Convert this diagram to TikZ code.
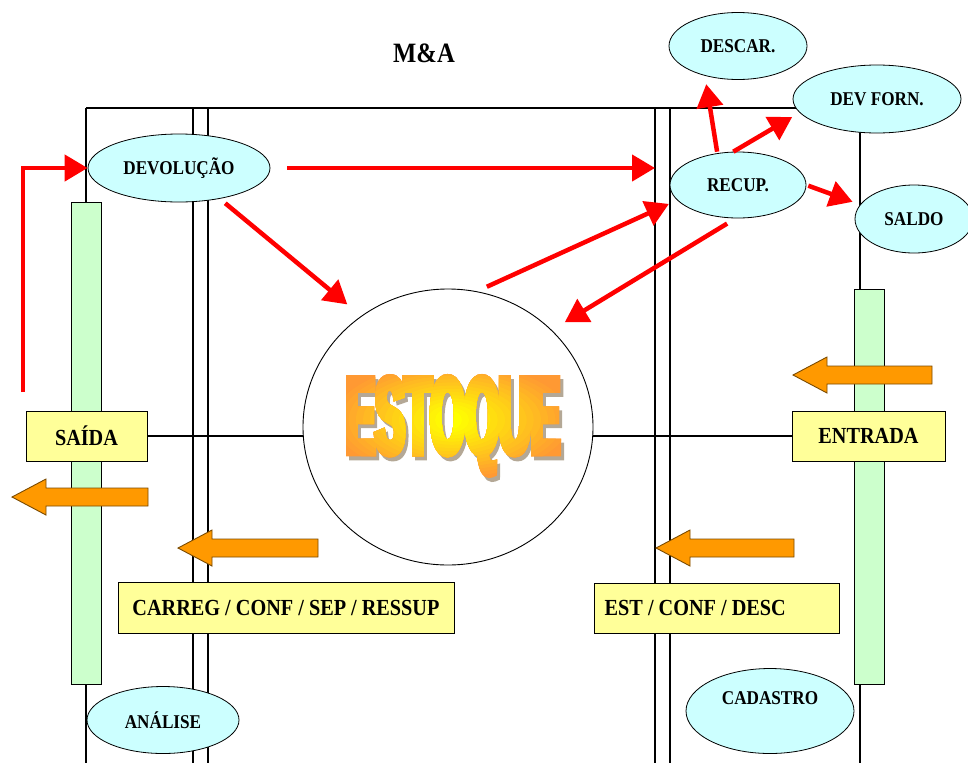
\documentclass[tikz,border=0pt]{standalone}
\usepackage{fontspec}
\setmainfont{Liberation Serif}
\newfontfamily\lblfont{Liberation Serif}[FakeStretch=0.88]
\newfontfamily\estfont{Liberation Sans}[FakeStretch=0.40,FakeBold=5]
\usetikzlibrary{shapes.geometric,arrows.meta}

\definecolor{bubble}{HTML}{CCFFFF}
\definecolor{barfill}{HTML}{CCFFCC}
\definecolor{boxfill}{HTML}{FFFF99}
\definecolor{flowred}{HTML}{FF0000}
\definecolor{blockor}{HTML}{FF9900}
\definecolor{blockedge}{HTML}{7A4A00}
\definecolor{estO}{HTML}{FF9933}
\definecolor{estY}{HTML}{FFFF00}
\definecolor{estS}{HTML}{B4A896}

\tikzset{
  lane/.style={line width=1.1pt, draw=black},
  bubble/.style={ellipse, draw=black, line width=0.8pt, fill=bubble, inner sep=0pt,
    font=\lblfont\bfseries\fontsize{19.5}{19.5}\selectfont},
  bar/.style={rectangle, draw=black, line width=1pt, fill=barfill, minimum width=30pt, inner sep=0pt},
  labelbox/.style={rectangle, draw=black, line width=1pt, fill=boxfill, minimum height=50pt, inner sep=0pt,
    font=\lblfont\bfseries\fontsize{23}{23}\selectfont},
  flow/.style={draw=flowred, line width=4.5pt, -{Triangle[length=23pt,width=26pt]}},
  block/.style={fill=blockor, draw=blockedge, line width=0.9pt, line join=miter},
  esttext/.style={inner sep=0pt, font=\estfont\bfseries\fontsize{110}{110}\selectfont},
}

% left-pointing block arrow: tip x, centre y, tail x
\newcommand\blockarrow[3]{%
  \draw[block] (#1,#2) -- (#1+34,#2-18) -- (#1+34,#2-9) -- (#3,#2-9)
    -- (#3,#2+9) -- (#1+34,#2+9) -- (#1+34,#2+18) -- cycle;}

\begin{document}
\begin{tikzpicture}[x=1pt,y=-1pt]
\fill[white] (0,0) rectangle (968,763);
\useasboundingbox (0,0) rectangle (968,763);

% swim-lane frame
\coordinate (bot) at (0,763);
\coordinate (lnA) at (86,108);
\coordinate (lnB1) at (193,108);
\coordinate (lnB2) at (208,108);
\coordinate (lnC1) at (655,108);
\coordinate (lnC2) at (670,108);
\coordinate (lnD) at (860,108);
\draw[lane] (lnA) -- (lnD);
\foreach \c in {lnA,lnB1,lnB2,lnC1,lnC2,lnD}
  \draw[lane] (\c) -- (\c |- bot);

% title
\node[font=\lblfont\bfseries\fontsize{28}{28}\selectfont] (title) at (424,53) {M\&A};

% activity bars
\node[bar, minimum height=482pt] (barL) at (86,443) {};
\node[bar, minimum height=395pt] (barR) at (869,486.5) {};

% process bubbles
\node[bubble, minimum width=182pt, minimum height=68pt] (dev) at (179,168) {DEVOLUÇÃO};
\node[bubble, minimum width=138pt, minimum height=67pt] (descar) at (738,46) {DESCAR.};
\node[bubble, minimum width=168pt, minimum height=68pt] (devforn) at (877,99) {DEV FORN.};
\node[bubble, minimum width=136pt, minimum height=66pt] (recup) at (738,185) {RECUP.};
\node[bubble, minimum width=118pt, minimum height=68pt] (saldo) at (914,219) {SALDO};
\node[bubble, minimum width=152pt, minimum height=67pt] (analise) at (163,720) {ANÁLISE};
\node[bubble, minimum width=168pt, minimum height=85pt] (cadastro) at (770,711) {};
\node[font=\lblfont\bfseries\fontsize{19.5}{19.5}\selectfont] (cadtext) at ([yshift=13pt]cadastro.center) {CADASTRO};

% label boxes
\node[labelbox, minimum width=121pt] (saida) at (86.5,436) {SAÍDA};
\node[labelbox, minimum width=153pt] (entrada) at (868.5,436) {ENTRADA};
\node[labelbox, minimum width=336pt, minimum height=51pt] (carreg) at (286,607.5) {CARREG / CONF / SEP / RESSUP};
\node[labelbox, minimum width=245pt] (estconf) at (716.5,608) {};
\node[anchor=west, inner sep=0pt, font=\lblfont\bfseries\fontsize{23}{23}\selectfont] (estconftext)
  at ([xshift=11pt]estconf.west) {EST / CONF / DESC};

% central stock
\node[ellipse, draw=black, line width=0.9pt, fill=white, minimum width=290pt, minimum height=276pt, inner sep=0pt] (est) at (448,427) {};
\draw[lane] (saida.east) -- (saida.east -| est.west);
\draw[lane] (est.east |- entrada.west) -- (entrada.west);

% ESTOQUE lettering: shadow, then radial orange-to-yellow layers
\node[esttext, text=estS] (estshadow) at (456,430) {ESTOQUE};
\node[esttext, text=estO] (estbase) at (453,426) {ESTOQUE};
\foreach \k in {1,...,16} {
  \pgfmathsetmacro\rx{125-7.2*\k}
  \pgfmathsetmacro\ry{60-3.2*\k}
  \pgfmathtruncatemacro\p{100*\k/16}
  \begin{scope}
    \clip (452,420) ellipse [x radius=\rx, y radius=\ry];
    \node[esttext, text=estY!\p!estO] (estlayer\k) at (453,426) {ESTOQUE};
  \end{scope}
}

% material flow block arrows
\blockarrow{12}{497}{148}
\blockarrow{178}{548}{318}
\blockarrow{793}{375}{932}
\blockarrow{656}{548}{794}

% return flows
\coordinate (loopstart) at (23,392);
\draw[flow] (loopstart) |- (dev.west);
\draw[flow, shorten <=17pt] (dev.east) -- (dev.east -| lnC1);
\draw[flow, shorten <=7pt, shorten >=18pt] (dev.-37) -- (est.128);
\draw[flow, shorten <=11pt, shorten >=9pt] (est.78) -- (recup.194);
\draw[flow, shorten <=10pt, shorten >=15pt] (recup.-94) -- (est.43);
\draw[flow, shorten <=1.5pt, shorten >=8.5pt] (recup.123) -- (descar.-138);
\draw[flow, shorten >=8.5pt] (recup.98) -- (devforn.190);
\draw[flow, shorten <=2pt, shorten >=8pt] (recup.east) -- (saldo.165);
\end{tikzpicture}
\end{document}
